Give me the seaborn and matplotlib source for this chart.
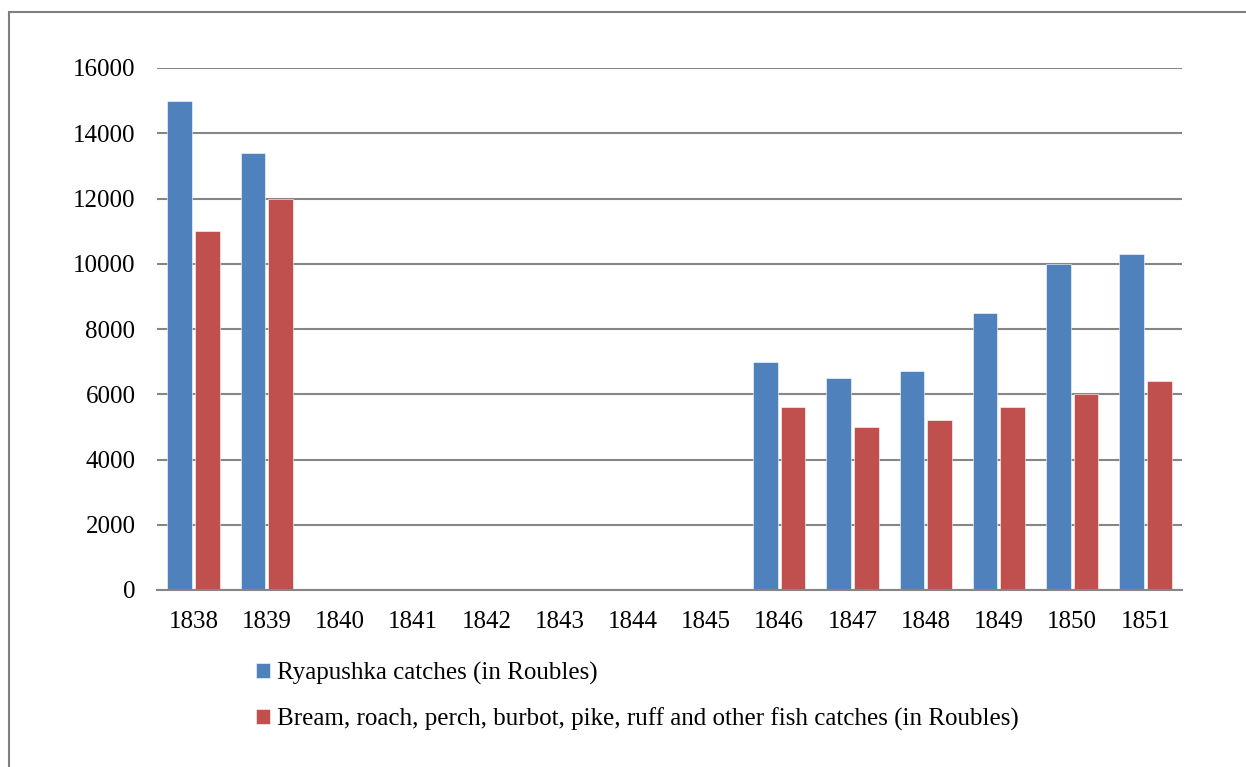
import numpy as np
import pandas as pd
import seaborn as sns
import matplotlib
matplotlib.use("Agg")
import matplotlib.pyplot as plt
from matplotlib.patches import Rectangle

# catches per year (in Roubles), no data for 1840-1845
years = ['1838', '1839', '1840', '1841', '1842', '1843', '1844',
         '1845', '1846', '1847', '1848', '1849', '1850', '1851']
ryapushka = [15000, 13400, None, None, None, None, None,
             None, 7000, 6500, 6700, 8500, 10000, 10300]
other_fish = [11000, 12000, None, None, None, None, None,
              None, 5600, 5000, 5200, 5600, 6000, 6400]

label_ryap = 'Ryapushka catches (in Roubles)'
label_other = 'Bream, roach, perch, burbot, pike, ruff and other fish catches (in Roubles)'

df = pd.DataFrame({'year': years * 2,
                   'value': ryapushka + other_fish,
                   'series': [label_ryap] * len(years) + [label_other] * len(years)})
df['value'] = df['value'].astype(float)
df = df.dropna()

sns.set_style('white')
plt.rcParams['font.family'] = ['Liberation Serif', 'DejaVu Serif']
plt.rcParams['text.color'] = 'black'
plt.rcParams['xtick.color'] = 'black'
plt.rcParams['ytick.color'] = 'black'

fig = plt.figure(figsize=(12.46, 7.67), dpi=100)
ax = fig.add_axes([157 / 1246, 1 - 590 / 767, (1182 - 157) / 1246, (590 - 68) / 767])

sns.barplot(data=df, x='year', y='value', hue='series', order=years,
            hue_order=[label_ryap, label_other],
            palette=['#4F81BD', '#C0504D'], saturation=1,
            width=0.756, gap=0.11,
            errorbar=None, ax=ax, edgecolor='white', linewidth=0.4)

ax.set_xlim(-0.5, len(years) - 0.5)
ax.set_ylim(0, 16000)
ax.set_yticks(np.arange(0, 16001, 2000))
ax.yaxis.grid(True, color='#868686', linewidth=1.5)
ax.set_axisbelow(True)
for s in ['top', 'right', 'left']:
    ax.spines[s].set_visible(False)
ax.spines['bottom'].set_color('#868686')
ax.spines['bottom'].set_linewidth(1.5)
ax.tick_params(axis='both', length=0, labelsize=18, labelcolor='black')
ax.tick_params(axis='y', pad=15.5)
ax.tick_params(axis='x', pad=15)
ax.set_xlabel('')
ax.set_ylabel('')

handles, labels = ax.get_legend_handles_labels()
ax.get_legend().remove()
fig.legend(handles, labels, loc='upper left',
           bbox_to_anchor=(256 / 1246, 1 - 662 / 767),
           frameon=False, fontsize=18, borderpad=0, borderaxespad=0,
           handlelength=0.55, handleheight=0.55, handletextpad=0.3,
           labelspacing=0.9, labelcolor='black')

# outer frame of the chart (only left and top edges visible)
fig.patches.append(Rectangle((9 / 1246, -0.1), 1.2, 1.1 - 12 / 767,
                             transform=fig.transFigure, fill=False,
                             edgecolor='#7f7f7f', linewidth=1.5))

fig.savefig('out.png', dpi=100)
